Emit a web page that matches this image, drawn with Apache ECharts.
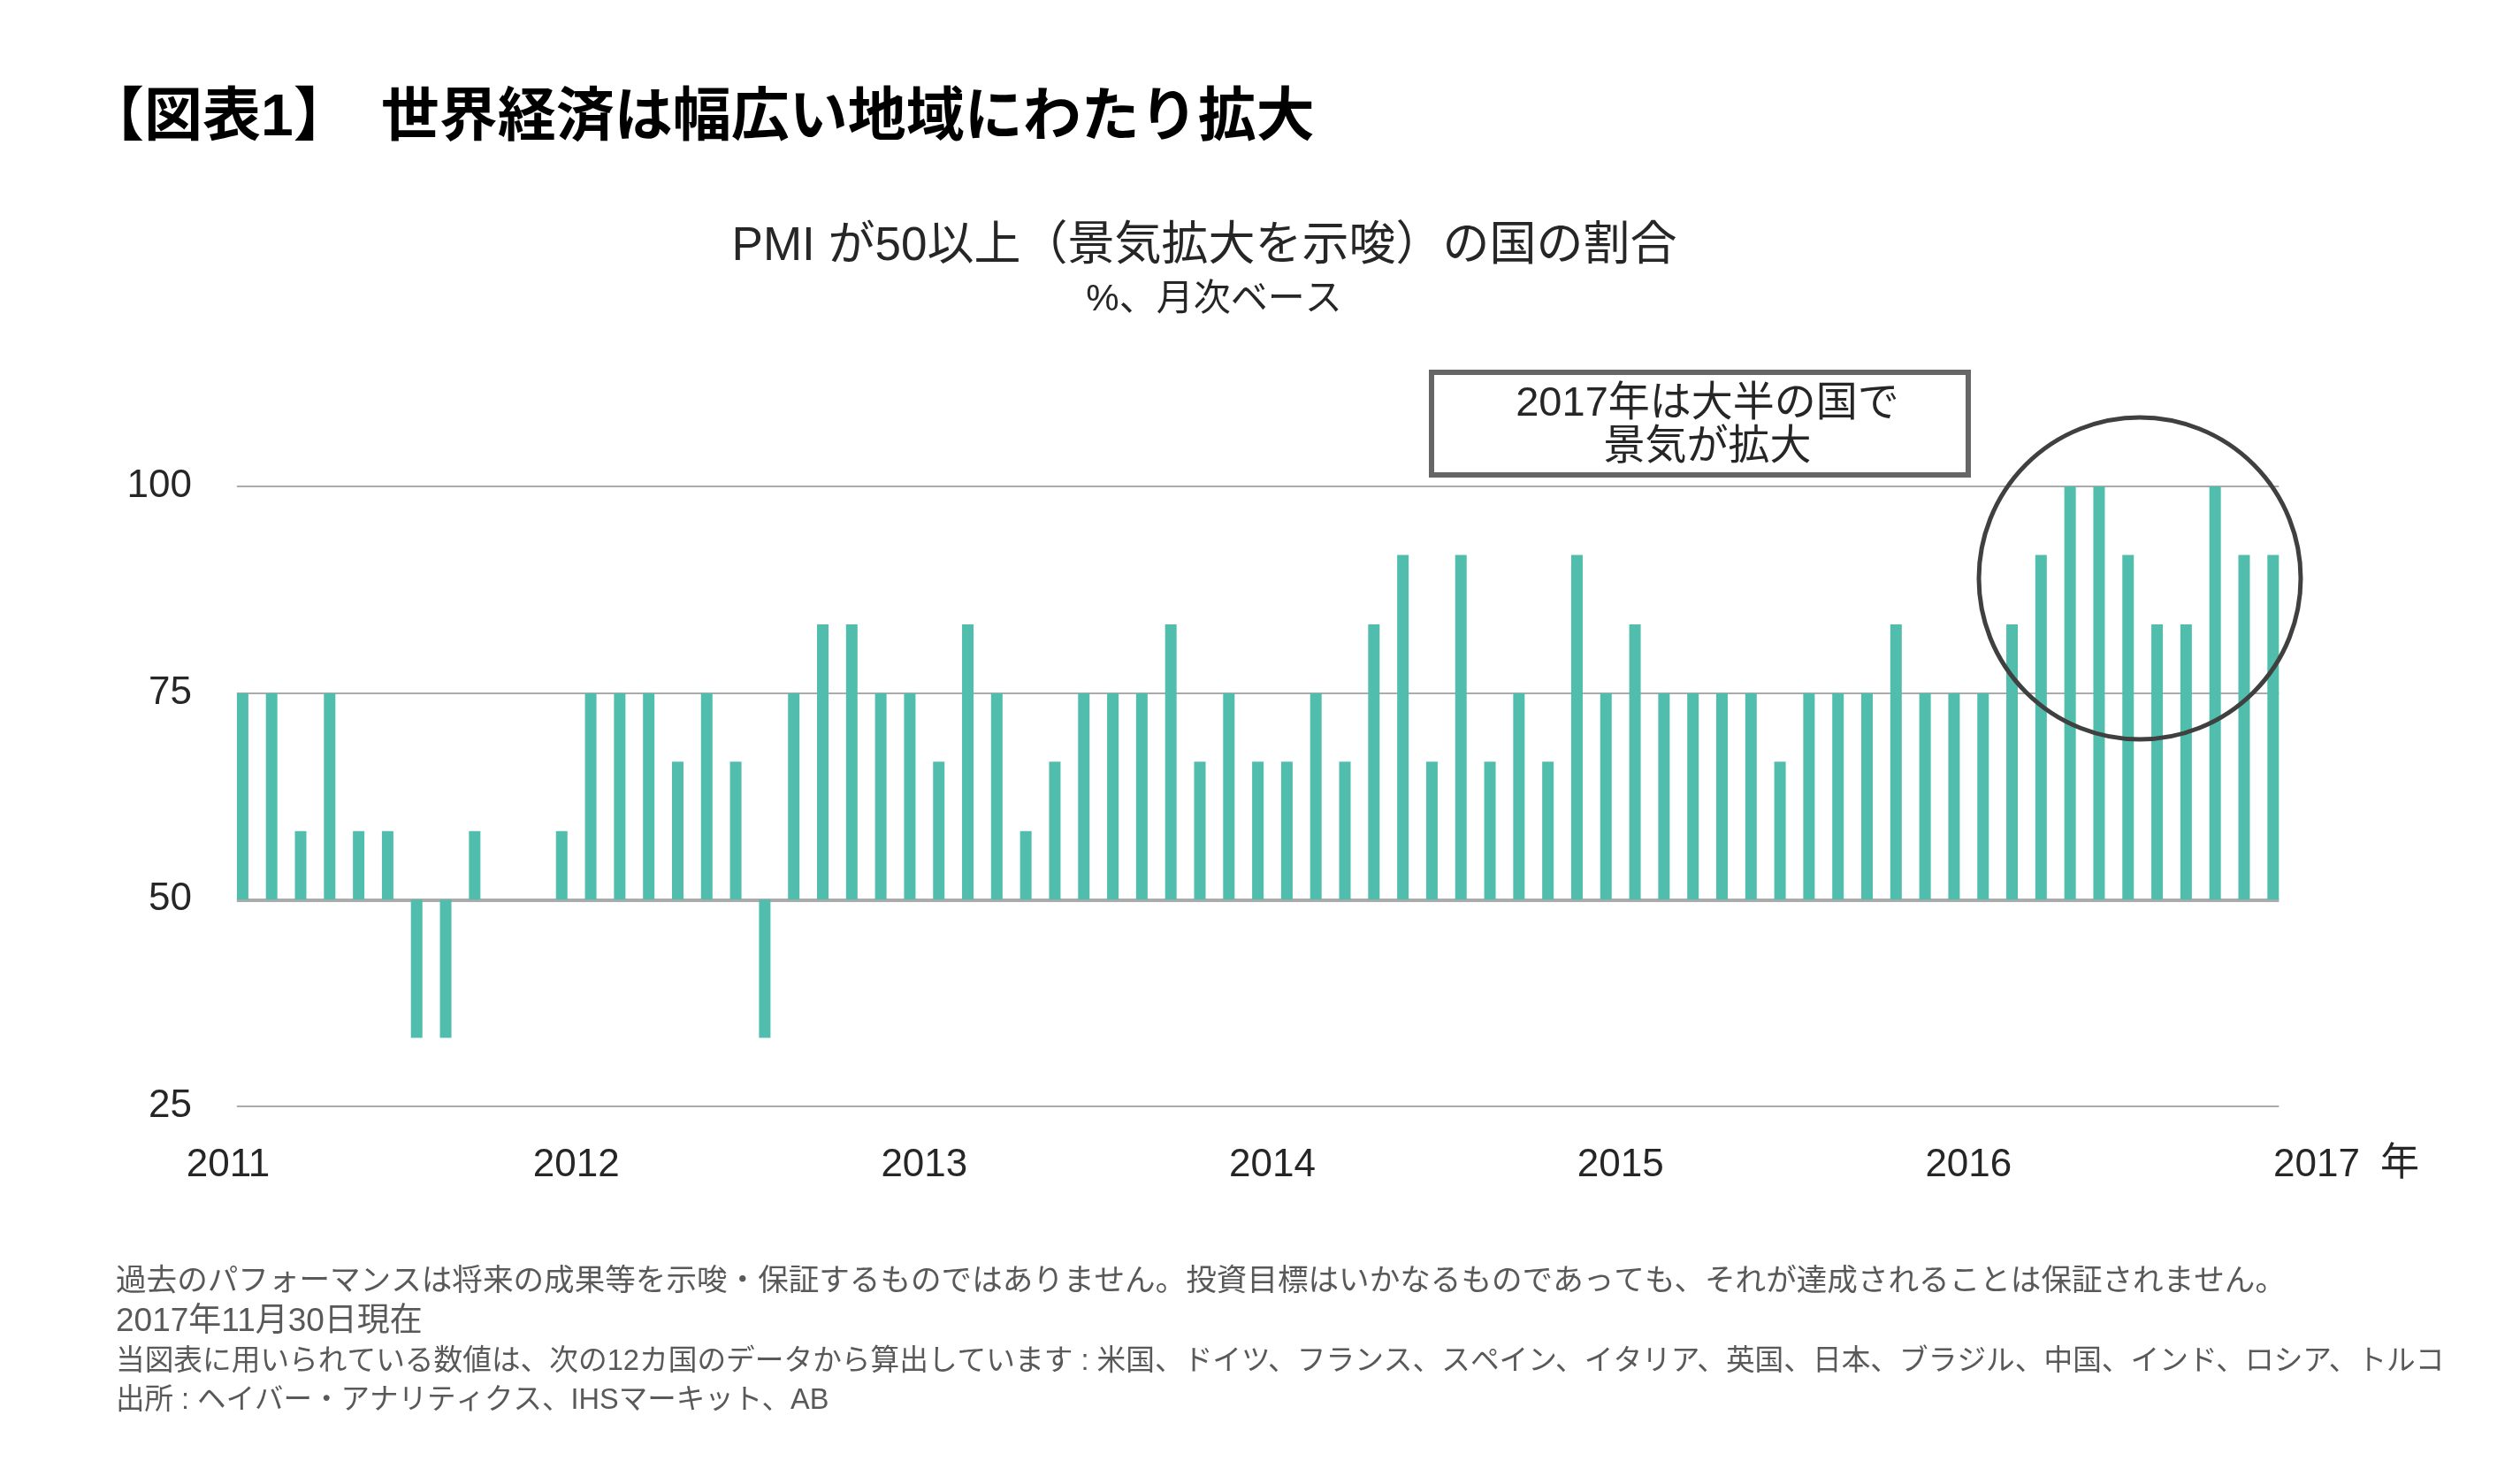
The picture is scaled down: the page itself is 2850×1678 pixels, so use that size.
<!DOCTYPE html>
<html>
<head>
<meta charset="utf-8">
<script src="https://cdn.jsdelivr.net/npm/echarts@6/dist/echarts.min.js"></script>
<style>
html,body{margin:0;padding:0;background:#fff;}
#chart{width:2850px;height:1678px;}
</style>
</head>
<body>
<div id="chart"></div>
<script>
// ---- data ----
const yearLabels = ['2011', '2012', '2013', '2014', '2015', '2016', '2017'];
// share of countries (%) with PMI >= 50, monthly, 71 months
const shareValues = [
  75, 75, 58.3, 75, 58.3, 58.3, 33.3, 33.3, 58.3, 50, 50, 58.3,
  75, 75, 75, 66.7, 75, 66.7, 33.3, 75, 83.3, 83.3, 75, 75,
  66.7, 83.3, 75, 58.3, 66.7, 75, 75, 75, 83.3, 66.7, 75, 66.7,
  66.7, 75, 66.7, 83.3, 91.7, 66.7, 91.7, 66.7, 75, 66.7, 91.7, 75,
  83.3, 75, 75, 75, 75, 66.7, 75, 75, 75, 83.3, 75, 75,
  75, 83.3, 91.7, 100, 100, 91.7, 83.3, 83.3, 100, 91.7, 91.7
];
const yTicks = [25, 50, 75, 100];
const BASE = 50;

const footerLines = [
  '過去のパフォーマンスは将来の成果等を示唆・保証するものではありません。投資目標はいかなるものであっても、それが達成されることは保証されません。',
  '2017年11月30日現在',
  '当図表に用いられている数値は、次の12カ国のデータから算出しています : 米国、ドイツ、フランス、スペイン、イタリア、英国、日本、ブラジル、中国、インド、ロシア、トルコ',
  '出所 : ヘイバー・アナリティクス、IHSマーキット、AB'
];
const footerSizes = [34.6, 37, 32.7, 32.5];

const FONT = "'Liberation Sans', Arial, 'Noto Sans CJK JP', sans-serif";
const chart = echarts.init(document.getElementById('chart'), null, {renderer: 'canvas'});

const barData = shareValues.map((v, i) => [i + 0.5, +(v - BASE).toFixed(2)]);
const xStart = 0.3, xEnd = shareValues.length - 0.3;
const gridLines = yTicks.map(t => [
  {coord: [xStart, t - BASE], lineStyle: {color: '#ababab', width: t === BASE ? 4 : 2, type: 'solid'}},
  {coord: [xEnd, t - BASE]}
]);

const footerGraphics = footerLines.map((txt, k) => ({
  type: 'text', x: 131, y: 1427 + k * 45,
  style: {
    text: txt, fontFamily: FONT, fontSize: footerSizes[k], lineHeight: 45, fill: '#595959',
    textAlign: 'left', textVerticalAlign: 'top'
  }
}));

const option = {
  animation: false,
  backgroundColor: '#ffffff',
  title: [
    {
      text: '【図表1】　世界経済は幅広い地域にわたり拡大',
      left: 92, top: 95,
      textStyle: {fontFamily: FONT, fontSize: 66, fontWeight: 'bold', color: '#000', lineHeight: 70}
    },
    {
      text: 'PMI が50以上（景気拡大を示唆）の国の割合',
      left: 1357, top: 246, textAlign: 'center',
      textStyle: {fontFamily: FONT, fontSize: 53, fontWeight: 'normal', color: '#262626', lineHeight: 56}
    },
    {
      text: '%、月次ベース',
      left: 1368, top: 311, textAlign: 'center',
      textStyle: {fontFamily: FONT, fontSize: 42, fontWeight: 'normal', color: '#262626', lineHeight: 46}
    }
  ],
  grid: {left: 258, right: 230, top: 550, bottom: 427, containLabel: false},
  xAxis: {
    type: 'value', min: 0, max: 72, interval: 12,
    axisLine: {show: false}, axisTick: {show: false}, splitLine: {show: false},
    axisLabel: {
      show: true, margin: 45, showMinLabel: true, showMaxLabel: true,
      fontFamily: FONT, fontSize: 44, color: '#262626',
      formatter: v => yearLabels[Math.round(v / 12)] || ''
    }
  },
  yAxis: {
    type: 'value', min: yTicks[0] - BASE, max: yTicks[yTicks.length - 1] - BASE, interval: 25,
    axisLine: {show: false}, axisTick: {show: false}, splitLine: {show: false},
    axisLabel: {
      margin: 41, fontFamily: FONT, fontSize: 44, color: '#262626',
      formatter: v => String(v + BASE)
    }
  },
  series: [
    {
      type: 'bar',
      data: barData,
      barWidth: 13,
      z: 10,
      itemStyle: {color: '#51BEAD'},
      markLine: {
        silent: true, symbol: 'none', z: 1,
        label: {show: false},
        data: gridLines
      }
    }
  ],
  graphic: [
    {
      type: 'text', left: 2714 - 22, top: 1312 - 17,
      style: {text: '年', fontFamily: FONT, fontSize: 44, fill: '#262626'}
    },
    {
      type: 'rect', z: 20,
      shape: {x: 1619, y: 421, width: 607, height: 116},
      style: {fill: '#ffffff', stroke: '#666666', lineWidth: 6}
    },
    {
      type: 'text', z: 21, x: 1931, y: 457,
      style: {text: '2017年は大半の国で', fontFamily: FONT, fontSize: 47, fill: '#262626',
              textAlign: 'center', textVerticalAlign: 'middle'}
    },
    {
      type: 'text', z: 21, x: 1931, y: 506,
      style: {text: '景気が拡大', fontFamily: FONT, fontSize: 47, fill: '#262626',
              textAlign: 'center', textVerticalAlign: 'middle'}
    },
    {
      type: 'circle', z: 20,
      shape: {cx: 2420, cy: 654, r: 182},
      style: {fill: 'none', stroke: '#404040', lineWidth: 5}
    }
  ].concat(footerGraphics)
};
chart.setOption(option);
</script>
</body>
</html>
